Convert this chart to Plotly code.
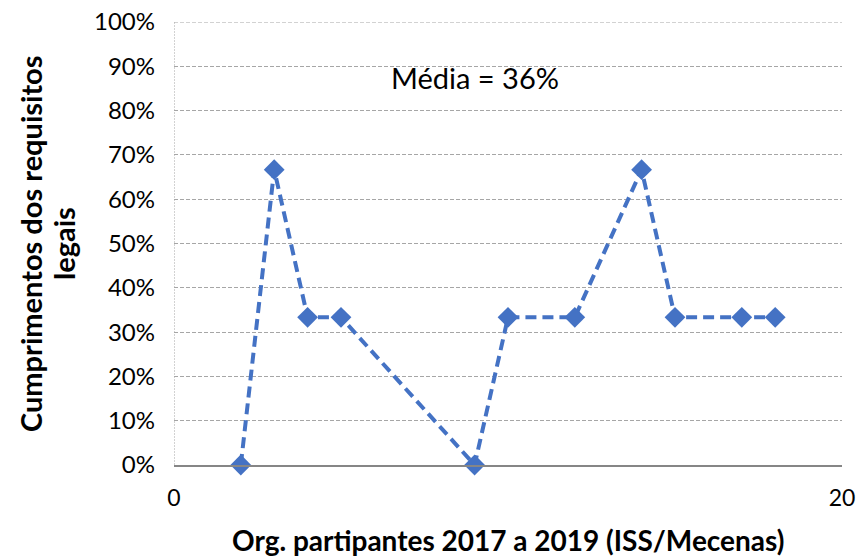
import plotly.graph_objects as go

x_vals = [2, 3, 4, 5, 9, 10, 12, 14, 15, 17, 18]
y_vals = [0.0, 0.6667, 0.3333, 0.3333, 0.0, 0.3333, 0.3333, 0.6667, 0.3333, 0.3333, 0.3333]
y_ticks = [i / 10 for i in range(11)]
y_tick_text = [f"{i*10}%" for i in range(11)]
x_ticks = [0, 20]
annotation_text = "Média = 36%"
x_title = "Org. partipantes 2017 a 2019 (ISS/Mecenas)"
y_title_lines = ["Cumprimentos dos requisitos", "legais"]

FONT = "Lato, 'Open Sans', sans-serif"
BLUE = "#4472C4"
GRID = "#A6A6A6"

W, H = 857, 559
L, R, T, B = 174, 842, 22, 465


def px_x(p):
    return (p - L) / (R - L)


def px_y(p):
    return (B - p) / (B - T)


fig = go.Figure()
fig.add_trace(go.Scatter(
    x=x_vals, y=y_vals, mode="lines+markers",
    line=dict(color=BLUE, width=4, dash="11px,6px"),
    marker=dict(symbol="diamond", size=16, color=BLUE),
    showlegend=False, cliponaxis=False, hoverinfo="skip",
))

# dotted left border of plot area
fig.add_shape(type="line", xref="x", yref="y", x0=0, x1=0, y0=0, y1=1,
              line=dict(color=GRID, width=1, dash="2px,1px"), layer="below")
# top gridline (kept explicitly so it is not culled at the range end)
fig.add_shape(type="line", xref="x", yref="y", x0=0, x1=20, y0=1, y1=1,
              line=dict(color=GRID, width=1, dash="4px,2px"), layer="below")
# white text-box background of the mean label (hides part of the 90% gridline)
fig.add_shape(type="rect", xref="paper", yref="paper",
              x0=px_x(371), x1=px_x(620), y0=px_y(100), y1=px_y(50),
              fillcolor="white", line=dict(width=0), layer="between")

fig.add_annotation(
    x=9, y=0.875, xref="x", yref="y", text=annotation_text, showarrow=False,
    font=dict(family=FONT, size=29, color="#000000"),
    xanchor="center", yanchor="middle",
)

# axis titles (positions in page pixels)
fig.add_annotation(
    x=px_x(508), y=px_y(540), xref="paper", yref="paper",
    text=f"<b>{x_title}</b>", showarrow=False,
    font=dict(family=FONT, size=28, color="#000000"),
    xanchor="center", yanchor="middle",
)
for txt, cx in zip(y_title_lines, [30, 63]):
    fig.add_annotation(
        x=px_x(cx), y=px_y(244), xref="paper", yref="paper",
        text=f"<b>{txt}</b>", showarrow=False, textangle=-90,
        font=dict(family=FONT, size=29, color="#000000"),
        xanchor="center", yanchor="middle",
    )

fig.update_layout(
    width=W, height=H,
    margin=dict(l=L, r=W - R, t=T, b=H - B),
    paper_bgcolor="white", plot_bgcolor="white",
    font=dict(family=FONT, color="#000000"),
)
fig.update_xaxes(
    range=[0, 20], tickvals=x_ticks, ticktext=[str(v) for v in x_ticks],
    showgrid=False, zeroline=False, automargin=False,
    showline=True, linecolor="#868686", linewidth=1.5,
    ticks="", tickfont=dict(family=FONT, size=23),
    ticklabelstandoff=12, ticklabeloverflow="allow",
)
fig.update_yaxes(
    range=[0, 1], tickvals=y_ticks, ticktext=y_tick_text,
    showgrid=True, gridcolor=GRID, gridwidth=1, griddash="4px,2px",
    zeroline=False, showline=False, ticks="", automargin=False,
    tickfont=dict(family=FONT, size=24), ticklabelstandoff=18,
    ticklabeloverflow="allow",
)

fig.write_html("out.html", config={"displayModeBar": False},
               post_script="document.body.style.margin='0px';")
